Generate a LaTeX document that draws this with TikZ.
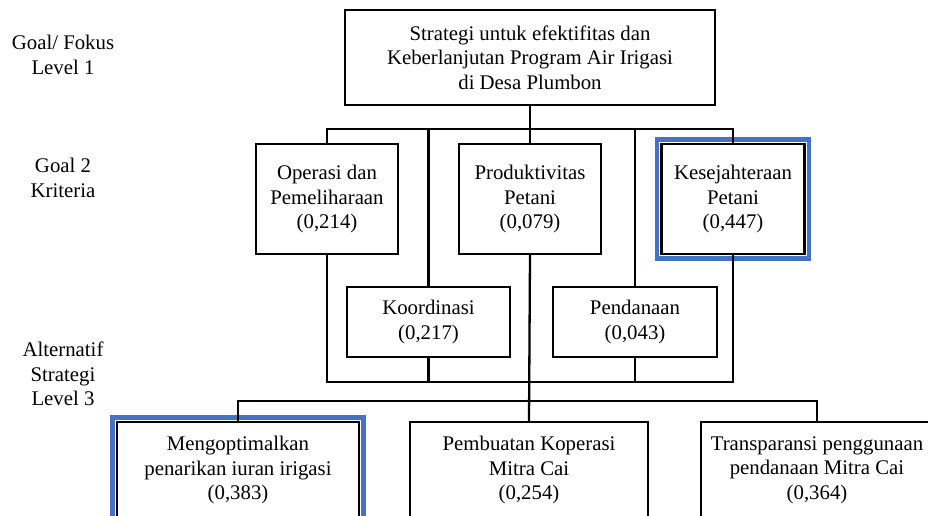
\documentclass[tikz,border=0pt]{standalone}
\usepackage{fontspec}
\setmainfont{Liberation Serif}
\begin{document}
\begin{tikzpicture}[x=1pt,y=-1pt,
  txt/.style={font=\fontsize{20.8}{24.5}\selectfont, align=center, inner sep=0pt},
  box/.style={txt, draw=black, line width=2.3pt, minimum width=#1},
  box/.default=142pt,
  crit/.style={box=#1, minimum height=110pt},
  sub/.style={box=#1, minimum height=70pt},
  alt/.style={box=#1, minimum height=96pt},
  hl/.style={draw={rgb,255:red,68;green,114;blue,196}, line width=4.6pt},
  conn/.style={draw=black, line width=2.3pt}
]
\useasboundingbox (0,0) rectangle (928,515);
\clip (0,0) rectangle (928,515);

% level labels
\node[txt] (l1) at (63,55) {Goal/ Fokus\\Level 1};
\node[txt] (l2) at (63,178) {Goal 2\\Kriteria};
\node[txt] (l3) at (63,374) {Alternatif\\Strategi\\Level 3};

% goal
\node[box=370pt, minimum height=95pt] (top) at (530,57.5)
  {Strategi untuk efektifitas dan\\Keberlanjutan Program Air Irigasi\\di Desa Plumbon};

% criteria
\node[crit=142pt] (ope) at (327,199) {Operasi dan\\Pemeliharaan\\(0,214)};
\node[crit=142pt] (prod) at (530,199) {Produktivitas\\Petani\\(0,079)};
\node[crit=143pt] (kes) at (733,199) {Kesejahteraan\\Petani\\(0,447)};
\node[sub=163pt] (koor) at (428.5,322) {Koordinasi\\(0,217)};
\node[sub=164pt] (pend) at (635,322) {Pendanaan\\(0,043)};

% alternatives
\node[alt=242pt] (meng) at (238,470) {Mengoptimalkan\\penarikan iuran irigasi\\(0,383)};
\node[alt=238pt] (pemb) at (529,470) {Pembuatan Koperasi\\Mitra Cai\\(0,254)};
\node[alt=232pt] (trans) at (817,470) {Transparansi penggunaan\\pendanaan Mitra Cai\\(0,364)};

% highlights
\draw[hl] ([xshift=-3.5pt,yshift=3.5pt]kes.north west) rectangle ([xshift=3.5pt,yshift=-3.5pt]kes.south east);
\draw[hl] ([xshift=-3.5pt,yshift=3.5pt]meng.north west) rectangle ([xshift=3.5pt,yshift=-3.5pt]meng.south east);

% bus coordinates
\coordinate (bus1) at (0,129);
\coordinate (bus2) at (0,382);
\coordinate (bus3) at (0,401);

% connectors
\draw[conn] (top.south) -- (prod.north);
\draw[conn] (ope.north) -- (ope.north |- bus1) -- (kes.north |- bus1) -- (kes.north);
\draw[conn] (koor.north) -- (koor.north |- bus1);
\draw[conn] (pend.north) -- (pend.north |- bus1);
\draw[conn] (ope.south) -- (ope.south |- bus2) -- (kes.south |- bus2) -- (kes.south);
\draw[conn] (koor.south) -- (koor.south |- bus2);
\draw[conn] (pend.south) -- (pend.south |- bus2);
\draw[conn] (prod.south) -- (pemb.north);
\draw[conn] (meng.north) -- (meng.north |- bus3) -- (trans.north |- bus3) -- (trans.north);
\end{tikzpicture}
\end{document}
